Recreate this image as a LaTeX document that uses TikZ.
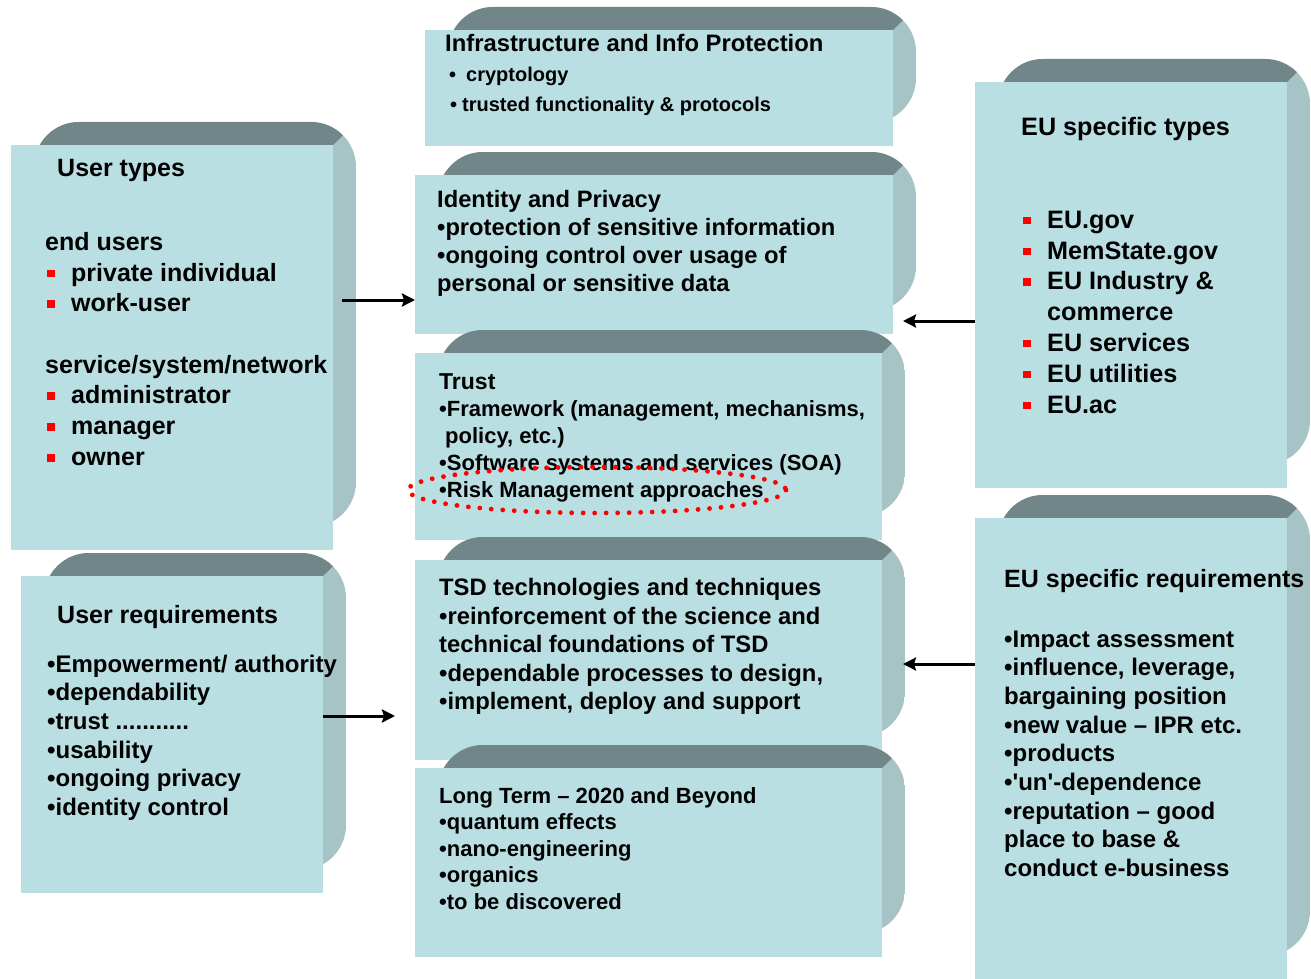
\documentclass[tikz,border=0pt]{standalone}
\usepackage{fontspec}
\setmainfont{Liberation Sans}
\usepackage{xcolor}
\usepackage{tikz}
\usetikzlibrary{arrows.meta,positioning,calc}
\definecolor{boxFace}{RGB}{185,223,227}
\definecolor{boxTop}{RGB}{112,134,136}
\definecolor{boxSide}{RGB}{166,195,197}
\definecolor{markRed}{RGB}{255,0,0}
\newcommand{\rsq}{\makebox[26pt][l]{\hspace{2pt}\textcolor{markRed}{\rule[4pt]{7.5pt}{7.5pt}}}}
\tikzset{
  face/.style={fill=boxFace,draw=none,inner sep=0pt,outer sep=0pt,anchor=north west},
  txt/.style={anchor=north west,align=left,inner sep=0pt},
  link/.style={line width=3pt,-{Stealth[length=13pt,width=13pt,inset=2pt]}},
  ring/.style={markRed,line width=4.8pt,line cap=round,dash pattern=on 0pt off 11.5pt},
}

\begin{document}
\begin{tikzpicture}[x=1pt,y=-1pt]
  \useasboundingbox (0,0) rectangle (1311,979);
  % slabs: shadow block behind, flat face in front
  \foreach \n/\xa/\ya/\xb/\yb in {inf/425/30/893/146,idp/415/175/893/334,tru/415/353/882/540,
      tsd/415/560/882/760,ltm/415/768/882/957,ut/11/145/333/550,ur/21/576/323/893,
      et/975/82/1287/488,er/975/518/1287/979}{
    \pgfmathsetmacro\w{\xb-\xa} \pgfmathsetmacro\h{\yb-\ya}
    \begin{scope}
      \clip[rounded corners=45pt] (\xa+23,\ya-23) rectangle (\xb+23,\yb-23);
      \fill[boxSide] (\xa,\ya-23) rectangle (\xb+23,\yb-23);
      \fill[boxTop] (\xa,\ya-23) -- (\xb+23,\ya-23) -- (\xb,\ya) -- (\xa,\ya) -- cycle;
    \end{scope}
    \node[face,minimum width=\w pt,minimum height=\h pt] (\n) at (\xa,\ya) {};
  }

  \node[txt,font=\fontsize{23.8}{30}\selectfont\bfseries] (inf-t) at ([shift={(20,4.5)}]inf.north west)
    {Infrastructure and Info Protection\\
     {\fontsize{20}{30}\selectfont\hspace*{4pt}•\hspace{10pt}cryptology}\\
     {\fontsize{20}{30}\selectfont\hspace*{5pt}•\hspace{5pt}trusted functionality \& protocols}};
  \node[txt,font=\fontsize{23.7}{28}\selectfont\bfseries] (idp-t) at ([shift={(22,15.5)}]idp.north west)
    {Identity and Privacy\\ •protection of sensitive information\\
     •ongoing control over usage of\\ personal or sensitive data};
  \node[txt,font=\fontsize{22}{26.8}\selectfont\bfseries] (tru-t) at ([shift={(24,20)}]tru.north west)
    {{\fontsize{23}{26.8}\selectfont Trust}\\[1pt] •Framework (management, mechanisms,\\
     \hspace*{6pt}policy, etc.)\\ •Software systems and services (SOA)\\ •Risk Management approaches};
  \node[txt,font=\fontsize{23.8}{28.5}\selectfont\bfseries] (tsd-t) at ([shift={(24,18.5)}]tsd.north west)
    {TSD technologies and techniques\\ •reinforcement of the science and\\
     technical foundations of TSD\\ •dependable processes to design,\\ •implement, deploy and support};
  \node[txt,font=\fontsize{22}{26.5}\selectfont\bfseries] (ltm-t) at ([shift={(24,19)}]ltm.north west)
    {Long Term – 2020 and Beyond\\ •quantum effects\\ •nano-engineering\\ •organics\\ •to be discovered};

  \node[txt,font=\fontsize{25}{30.8}\selectfont\bfseries] (ut-t) at ([shift={(34,14)}]ut.north west)
    {\hspace*{12pt}User types\\[43pt]
     end users\\ \rsq private individual\\ \rsq work-user\\[30.5pt]
     service/system/network\\ \rsq administrator\\ \rsq manager\\ \rsq owner};
  \node[txt,font=\fontsize{24}{28.7}\selectfont\bfseries] (ur-t) at ([shift={(26,29)}]ur.north west)
    {{\fontsize{25}{28.7}\selectfont\hspace*{10pt}User requirements}\\[20pt]
     •Empowerment/ authority\\ •dependability\\ •trust ...........\\
     •usability\\ •ongoing privacy\\ •identity control};
  \node[txt,font=\fontsize{25.2}{30.8}\selectfont\bfseries] (et-t) at ([shift={(46,35)}]et.north west)
    {EU specific types\\[62pt]
     \rsq EU.gov\\ \rsq MemState.gov\\ \rsq EU Industry \&\\ \hspace*{26pt}commerce\\
     \rsq EU services\\ \rsq EU utilities\\ \rsq EU.ac};
  \node[txt,font=\fontsize{24}{28.7}\selectfont\bfseries] (er-t) at ([shift={(29,51)}]er.north west)
    {{\fontsize{25}{28.7}\selectfont EU specific requirements}\\[31pt]
     •Impact assessment\\ •influence, leverage,\\ bargaining position\\
     •new value – IPR etc.\\ •products\\ •\textquotesingle un\textquotesingle-dependence\\
     •reputation – good\\ place to base \&\\ conduct e-business};

  % links
  \draw[link] ([shift={(9,155)}]ut.north east) coordinate (a1) -- (a1 -| idp.west);
  \draw[link] ([shift={(0,239)}]et.north west) coordinate (a2) -- ([xshift=10pt]a2 -| idp.east);
  \draw[link] ([shift={(0,140)}]ur.north east) coordinate (a3) -- ([xshift=-20pt]a3 -| tsd.west);
  \draw[link] ([shift={(0,146)}]er.north west) coordinate (a4) -- ([xshift=21pt]a4 -| tsd.east);

  \draw[ring] (597,490) ellipse (189 and 23);
\end{tikzpicture}
\end{document}
